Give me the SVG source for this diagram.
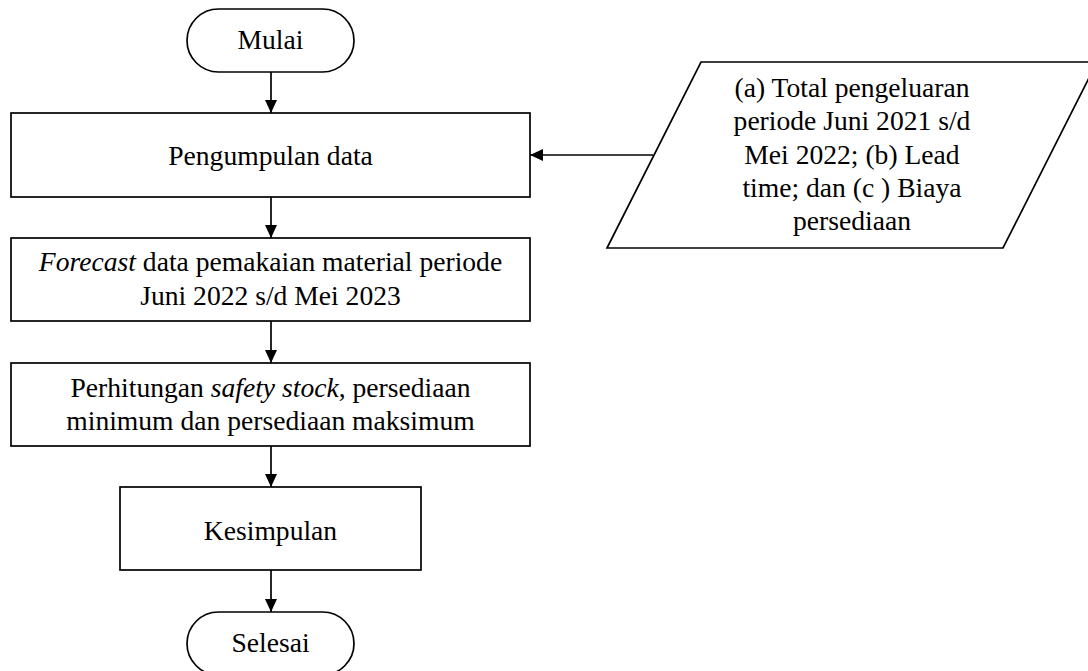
<svg xmlns="http://www.w3.org/2000/svg" width="1088" height="671" viewBox="0 0 1088 671">
<style>
.s{fill:#fff;stroke:#000;stroke-width:1.7}
.t{font-family:"Liberation Serif","Times New Roman",serif;font-size:27.6px;fill:#000;text-anchor:middle}
.i{font-style:italic}
.c{stroke:#000;stroke-width:1.7;fill:none;marker-end:url(#ah)}
</style>
<defs>
<marker id="ah" markerUnits="userSpaceOnUse" markerWidth="13" markerHeight="12" refX="13" refY="6" orient="auto">
<path d="M0,0 L13,6 L0,12 z" fill="#000"/>
</marker>
</defs>
<rect width="1088" height="671" fill="#fff"/>
<g id="connectors">
<line class="c" x1="271" y1="72" x2="271" y2="113"/>
<line class="c" x1="271" y1="197" x2="271" y2="238"/>
<line class="c" x1="271" y1="321" x2="271" y2="363"/>
<line class="c" x1="271" y1="446" x2="271" y2="487"/>
<line class="c" x1="271" y1="570" x2="271" y2="612"/>
<line class="c" x1="653" y1="155" x2="530" y2="155"/>
</g>
<g id="mulai">
<rect class="s" x="187" y="9" width="167" height="63" rx="31.5" ry="31.5"/>
<text class="t" x="270.5" y="49">Mulai</text>
</g>
<g id="pengumpulan">
<rect class="s" x="11" y="113" width="519" height="84"/>
<text class="t" x="270.5" y="164.5">Pengumpulan data</text>
</g>
<g id="input-data">
<polygon class="s" points="701,62 1097,62 1003,248 607,248"/>
<text class="t" x="852" y="97">(a) Total pengeluaran</text>
<text class="t" x="852" y="130">periode Juni 2021 s/d</text>
<text class="t" x="852" y="163.5">Mei 2022; (b) Lead</text>
<text class="t" x="852" y="197">time; dan (c ) Biaya</text>
<text class="t" x="852" y="230">persediaan</text>
</g>
<g id="forecast">
<rect class="s" x="11" y="238" width="519" height="83"/>
<text class="t" x="270.5" y="271"><tspan class="i">Forecast</tspan> data pemakaian material periode</text>
<text class="t" x="270.5" y="304.5">Juni 2022 s/d Mei 2023</text>
</g>
<g id="perhitungan">
<rect class="s" x="11" y="363" width="519" height="83"/>
<text class="t" x="270.5" y="397"><tspan>Perhitungan </tspan><tspan class="i">safety stock</tspan><tspan>, persediaan</tspan></text>
<text class="t" x="270.5" y="430">minimum dan persediaan maksimum</text>
</g>
<g id="kesimpulan">
<rect class="s" x="120" y="487" width="301" height="83"/>
<text class="t" x="270.5" y="539.5">Kesimpulan</text>
</g>
<g id="selesai">
<rect class="s" x="187" y="612" width="167" height="63" rx="31.5" ry="31.5"/>
<text class="t" x="270.5" y="652">Selesai</text>
</g>
</svg>
